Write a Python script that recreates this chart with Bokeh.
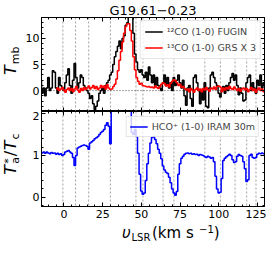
import numpy as np
from bokeh.plotting import figure
from bokeh.layouts import column, row
from bokeh.models import (Range1d, LinearAxis, SingleIntervalTicker, Span, Legend,
                          LegendItem, Label)
from bokeh.embed import file_html
from bokeh.resources import INLINE

FONT = "DejaVu Sans"

# ---------------- data ----------------
title_text = "G19.61\u22120.23"

# 12CO (1-0) FUGIN, channels -15 ... 130 km/s (1 km/s)
co12_vel = np.arange(-15, 131, 1.0)
co12_T = [2.0, -0.5, 0.5, -1.0, 0.5, 2.5, 0.0, 0.5, 3.8, 3.5,
          0.5, -0.5, 2.5, 1.0, 0.5, 0.0, 1.5, 3.0, 4.2, 1.0,
          -0.5, 2.0, 5.2, 2.5, 0.5, 1.5, 3.0, 2.5, 1.0, 0.5,
          0.0, -0.5, -1.5, -1.0, -2.5, -3.6, -3.0, -2.0, -0.5, 0.0,
          0.5, -0.5, 1.0, 1.5, 2.0, 3.0, 3.5, 5.0, 6.5, 7.5,
          8.5, 9.5, 8.0, 10.0, 10.5, 12.5, 13.0, 14.5, 15.5, 14.5,
          11.0, 7.0, 5.5, 4.0, 3.5, 4.0, 3.0, 2.5, 3.5, 2.0,
          4.5, 3.0, 1.5, 3.0, 1.0, 2.5, 1.0, 0.5, 0.0, 1.5,
          3.0, 1.0, 2.5, 0.5, 1.5, 0.0, 2.5, 1.0, 2.0, 3.0,
          1.5, 0.5, 2.0, -1.0, -2.8, 0.5, 1.0, -1.5, -3.0, 2.5,
          3.0, 1.5, 0.0, -2.5, 0.0, -1.8, 1.5, -3.0, -3.3, 0.5,
          3.0, 3.5, 2.5, 1.5, 1.0, -0.5, -1.2, 0.0, 0.8, -0.5,
          1.0, 0.0, 1.5, 2.5, 3.3, 2.0, 3.0, 1.0, -0.8, 0.5,
          -0.5, -2.0, -1.8, 1.5, 2.5, 3.0, 0.0, 1.5, 0.5, -0.5,
          2.0, 1.0, 3.0, 0.5, 1.5, 1.0]

# 13CO (1-0) GRS x 3, channels -5 ... 130 km/s
co13_vel = np.arange(-5, 131, 1.0)
co13_T3 = [0.2, 0.5, 0.0, 0.3, 0.6, 0.1, -0.3, 0.2, 0.5, 0.0,
           0.4, -0.2, 0.3, 0.8, 0.1, -0.3, 0.4, 0.0, 0.6, 0.2,
           0.5, 0.9, 0.3, 0.6, 1.0, 0.4, 0.8, 0.2, 0.5, 1.0,
           0.6, 0.9, 0.3, 1.1, 0.5, 0.2, 0.3, 0.8, 1.2, 2.2,
           3.8, 5.8, 7.5, 9.3, 11.0, 12.3, 12.8, 12.8, 11.5, 9.5,
           6.5, 4.0, 2.5, 1.8, 1.2, 1.4, 1.0, 0.9, 0.8, 0.7,
           0.8, 0.6, 0.7, 0.5, 0.9, 0.6, 0.4, 0.8, 1.2, 1.5,
           1.3, 0.9, 1.1, 0.7, 1.4, 1.8, 2.1, 1.9, 1.5, 1.0,
           1.2, 0.6, 0.8, 0.4, 0.1, 0.3, -0.2, 0.4, 0.1, -0.3,
           0.2, 0.5, 0.0, 0.3, -0.2, 0.4, 0.1, 0.6, 0.2, -0.1,
           0.5, 0.3, 0.7, 0.2, 0.8, 0.9, 0.7, -0.2, 0.5, 0.1,
           0.6, 0.3, 0.8, 0.4, 0.2, 0.7, 0.3, 0.0, 0.4, -0.1,
           0.3, 0.5, 0.1, 0.4, -0.2, 0.2, 0.6, 0.0, 0.3, -0.3,
           0.2, 0.5, 0.0, 0.3, -0.2, 0.1]

# HCO+ (1-0) IRAM 30m, Ta*/Tc, channels -15 ... 130 km/s
hco_vel = np.arange(-15, 131, 1.0)
hco_ratio = [1.07, 1.06, 1.08, 1.05, 1.08, 1.06, 1.04, 1.07, 1.05, 1.06,
             1.03, 1.05, 1.02, 1.04, 1.00, 1.02, 1.08, 1.10, 1.12, 1.08,
             1.05, 0.95, 0.76, 1.00, 1.18, 1.20, 1.22, 1.24, 1.25, 1.24,
             1.22, 1.15, 1.30, 1.33, 1.36, 1.40, 1.42, 1.45, 1.50, 1.55,
             1.58, 1.62, 1.72, 1.78, 1.70, 1.28, 2.30, 2.60, 3.00, 3.20,
             3.30, 3.40, 3.30, 3.20, 3.10, 3.00, 2.90, 2.80, 2.60, 1.55,
             1.50, 1.62, 1.45, 1.05, 0.55, 0.15, 0.07, 0.10, 0.40, 0.80,
             1.05, 1.30, 1.43, 1.45, 1.38, 1.28, 1.15, 1.05, 0.92, 0.75,
             0.65, 0.60, 0.57, 0.48, 0.35, 0.20, 0.10, 0.05, 0.14, 0.55,
             0.80, 0.93, 0.98, 1.03, 1.05, 1.06, 1.04, 1.05, 1.03, 1.04,
             1.02, 1.03, 1.00, 1.02, 1.01, 1.00, 0.97, 0.95, 0.98, 0.96,
             0.93, 0.95, 0.85, 0.50, 0.20, 0.10, 0.12, 0.45, 0.88, 0.93,
             0.97, 1.00, 1.03, 1.00, 0.90, 0.83, 0.85, 0.98, 1.02, 1.00,
             0.98, 0.85, 0.68, 0.38, 0.42, 1.00, 1.03, 0.95, 0.93, 0.95,
             1.03, 1.05, 1.04, 1.06, 1.04, 1.05]

# velocities marked with dotted vertical lines
marker_vel = [-0.7, 7.5, 16, 30, 46.5, 51, 64, 71, 91, 101, 110.5, 118, 124]

x_ticks_major = 25
labels_top = ["\u00b9\u00b2CO (1-0) FUGIN", "\u00b9\u00b3CO (1-0) GRS X 3"]
label_bottom = "HCO\u207a (1-0) IRAM 30m"

# ---------------- layout ----------------
YLW = 22            # strip holding the y-axis titles
W = 266 - YLW       # main figures
ML, MR = 16, 2
FH = 95
TITLE_H = 16
P2_BOTTOM = 16
XL_H = 21
xr = Range1d(-14.5, 129.5)


def style_axis(ax, ticker, labels, size="11px", standoff=3):
    ax.ticker = ticker
    ax.axis_line_color = "black"
    ax.axis_line_width = 1
    ax.major_tick_in = 4
    ax.major_tick_out = 0
    ax.minor_tick_in = 2
    ax.minor_tick_out = 0
    ax.major_tick_line_color = "black"
    ax.minor_tick_line_color = "black"
    ax.major_label_text_font = FONT
    if labels:
        ax.major_label_text_color = "black"
        ax.major_label_text_font_size = size
        ax.major_label_standoff = standoff
    else:
        ax.major_label_text_color = None
        ax.major_label_text_font_size = "0px"
        ax.major_label_standoff = 0


def txt(p, x, y, text, size, style="normal", angle=0.0):
    p.add_layout(Label(x=x, y=y, x_units="screen", y_units="screen", text=text,
                       text_font=FONT, text_font_size=f"{size}px",
                       text_font_style=style, angle=angle, text_align="left",
                       text_baseline="middle", text_color="black"))


def base_fig(height, yr, top, bottom):
    p = figure(width=W, height=height, x_range=xr, y_range=yr,
               output_backend="svg", toolbar_location=None,
               min_border_left=ML, min_border_right=MR,
               min_border_top=top, min_border_bottom=bottom)
    p.grid.visible = False
    p.outline_line_color = "black"
    p.outline_line_width = 1
    p.background_fill_color = "white"
    p.border_fill_color = "white"
    return p


def strip(width, height):
    s = figure(width=width, height=height, x_range=Range1d(0, width),
               y_range=Range1d(0, height), output_backend="svg",
               toolbar_location=None, x_axis_location=None, y_axis_location=None,
               min_border=0)
    s.grid.visible = False
    s.outline_line_color = None
    s.background_fill_color = "white"
    s.border_fill_color = "white"
    return s


# ---- top panel ----
p1 = base_fig(TITLE_H + FH, Range1d(-4, 14), TITLE_H, 0)
p1.title.text = title_text
p1.title.text_font = FONT
p1.title.text_font_size = "13px"
p1.title.text_font_style = "normal"
p1.title.text_color = "black"
p1.title.align = "center"
p1.title.standoff = 0
p1.title.offset = 0

style_axis(p1.xaxis[0], SingleIntervalTicker(interval=x_ticks_major, num_minor_ticks=5), False)
style_axis(p1.yaxis[0], SingleIntervalTicker(interval=5, num_minor_ticks=5), True, "11px", 2)
ax = LinearAxis()
style_axis(ax, SingleIntervalTicker(interval=x_ticks_major, num_minor_ticks=5), False)
p1.add_layout(ax, "above")
ax = LinearAxis()
style_axis(ax, SingleIntervalTicker(interval=5, num_minor_ticks=5), False)
p1.add_layout(ax, "right")

for v in marker_vel:
    p1.add_layout(Span(location=v, dimension="height", line_color="#8a8a8a",
                       line_dash="2 2", line_width=0.8, level="underlay"))
p1.add_layout(Span(location=0, dimension="width", line_color="#444444",
                   line_dash="1 2", line_width=1, level="underlay"))

r12 = p1.step(co12_vel, co12_T, mode="center", line_color="black", line_width=1.5)
r13 = p1.step(co13_vel, co13_T3, mode="center", line_color="#ff0000", line_width=1.5)

leg1 = Legend(items=[LegendItem(label=labels_top[0], renderers=[r12]),
                     LegendItem(label=labels_top[1], renderers=[r13])],
              location="top_right", margin=3, padding=4, spacing=3,
              label_text_font=FONT, label_text_font_size="9.5px",
              glyph_width=18, glyph_height=13, label_height=13, label_standoff=4,
              border_line_color="#cccccc", border_line_width=1,
              background_fill_alpha=0.8)
p1.add_layout(leg1)

# ---- bottom panel ----
p2 = base_fig(FH + P2_BOTTOM, Range1d(-0.22, 2.05), 0, P2_BOTTOM)
style_axis(p2.xaxis[0], SingleIntervalTicker(interval=x_ticks_major, num_minor_ticks=5), True, "11px", 3)
style_axis(p2.yaxis[0], SingleIntervalTicker(interval=1, num_minor_ticks=5), True, "11px", 2)
ax = LinearAxis()
style_axis(ax, SingleIntervalTicker(interval=x_ticks_major, num_minor_ticks=5), False)
p2.add_layout(ax, "above")
ax = LinearAxis()
style_axis(ax, SingleIntervalTicker(interval=1, num_minor_ticks=5), False)
p2.add_layout(ax, "right")

for v in marker_vel:
    p2.add_layout(Span(location=v, dimension="height", line_color="#8a8a8a",
                       line_dash="2 2", line_width=0.8, level="underlay"))

rh = p2.step(hco_vel, hco_ratio, mode="center", line_color="#0000ff", line_width=1.5)
leg2 = Legend(items=[LegendItem(label=label_bottom, renderers=[rh])],
              location="top_right", margin=5, padding=3, spacing=0,
              label_text_font=FONT, label_text_font_size="9.5px",
              glyph_width=18, glyph_height=13, label_height=13, label_standoff=4,
              border_line_color="#cccccc", border_line_width=1,
              background_fill_alpha=0.8)
p2.add_layout(leg2)

# ---- x-axis title strip:  v_LSR (km s^-1) ----
xl = strip(W, XL_H)
fw = W - ML - MR
x0 = ML + fw / 2.0 - 48.5
ym = 10.8
txt(xl, x0, ym, "\u03c5", 15, "italic")
txt(xl, x0 + 9.5, ym - 4.7, "LSR", 10)
txt(xl, x0 + 30.0, ym, " (km s", 15)
txt(xl, x0 + 77.0, ym + 3.3, "\u22121", 10)
txt(xl, x0 + 91.8, ym, ")", 15)

# ---- y-axis title strip ----
total_h = TITLE_H + FH + FH + P2_BOTTOM + XL_H
yl = strip(YLW, total_h)
c1 = XL_H + P2_BOTTOM + FH + FH / 2.0     # centre of the top frame
c2 = XL_H + P2_BOTTOM + FH / 2.0          # centre of the bottom frame
a = 10.0
sx, px = a + 5.0, a - 2.3
# T_mb
txt(yl, a, c1 - 11, "T", 16, "italic", np.pi / 2)
txt(yl, sx, c1 - 0.2, "mb", 11, "normal", np.pi / 2)
# T_a^* / T_c
y0 = c2 - 15.7
txt(yl, a, y0, "T", 16, "italic", np.pi / 2)
txt(yl, sx, y0 + 11, "a", 11, "normal", np.pi / 2)
txt(yl, px, y0 + 11, "*", 11, "normal", np.pi / 2)
txt(yl, a, y0 + 18.5, "/", 16, "normal", np.pi / 2)
txt(yl, a, y0 + 24.5, "T", 16, "italic", np.pi / 2)
txt(yl, sx, y0 + 35.3, "c", 11, "normal", np.pi / 2)

layout = row(yl, column(p1, p2, xl, spacing=0), spacing=0)
open("out.html", "w").write(file_html(layout, INLINE))
